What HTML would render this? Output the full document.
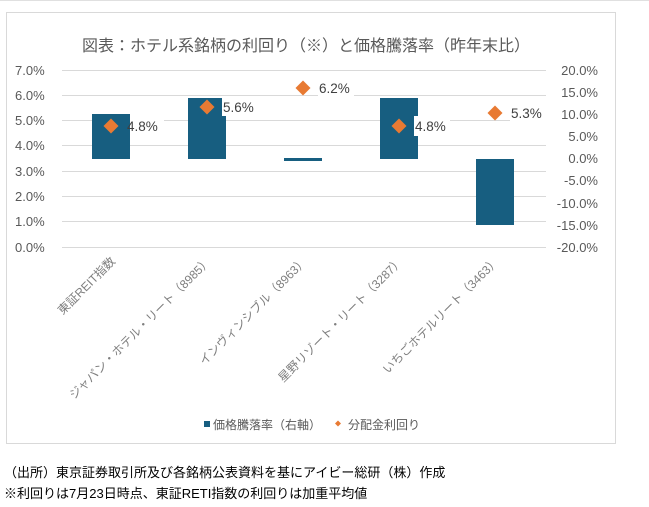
<!DOCTYPE html>
<html><head><meta charset="utf-8"><style>
html,body{margin:0;padding:0;background:#fff;width:649px;height:507px;overflow:hidden}
svg text{font-family:"Liberation Sans","Noto Sans CJK JP",sans-serif}
</style></head><body>
<svg width="649" height="507" xmlns="http://www.w3.org/2000/svg">
<rect x="6.5" y="12.5" width="609" height="431" fill="#fff" stroke="#d9d9d9"/>
<line x1="0" y1="0.5" x2="649" y2="0.5" stroke="#e0e0e0"/>
<text x="306" y="51" font-size="16" fill="#595959" text-anchor="middle">図表：ホテル系銘柄の利回り（※）と価格騰落率（昨年末比）</text>
<g stroke="#d9d9d9" stroke-width="1">
<line x1="62" y1="70.5" x2="546" y2="70.5"/><line x1="62" y1="95.5" x2="546" y2="95.5"/>
<line x1="62" y1="120.5" x2="546" y2="120.5"/><line x1="62" y1="145.5" x2="546" y2="145.5"/>
<line x1="62" y1="171.5" x2="546" y2="171.5"/><line x1="62" y1="196.5" x2="546" y2="196.5"/>
<line x1="62" y1="221.5" x2="546" y2="221.5"/><line x1="62" y1="247.5" x2="546" y2="247.5"/>
</g>
<g font-size="13" fill="#595959">
<text x="15" y="75">7.0%</text><text x="15" y="100">6.0%</text><text x="15" y="125">5.0%</text>
<text x="15" y="150">4.0%</text><text x="15" y="176">3.0%</text><text x="15" y="201">2.0%</text>
<text x="15" y="226">1.0%</text><text x="15" y="252">0.0%</text>
<g text-anchor="end">
<text x="598" y="75">20.0%</text><text x="598" y="97">15.0%</text><text x="598" y="119">10.0%</text>
<text x="598" y="141">5.0%</text><text x="598" y="163">0.0%</text><text x="598" y="185">-5.0%</text>
<text x="598" y="208">-10.0%</text><text x="598" y="230">-15.0%</text><text x="598" y="252">-20.0%</text>
</g></g>
<g fill="#175e80">
<rect x="92" y="114" width="38" height="45"/>
<rect x="188" y="98" width="38" height="61"/>
<rect x="284" y="158" width="38" height="3"/>
<rect x="380" y="98" width="38" height="61"/>
<rect x="476" y="159" width="38" height="66"/>
</g>
<g fill="#fff">
<rect x="130" y="116" width="34" height="20"/>
<rect x="222" y="96" width="36" height="20"/>
<rect x="318" y="80" width="36" height="20"/>
<rect x="414" y="116" width="36" height="20"/>
<rect x="510" y="103" width="36" height="20"/>
</g>
<g fill="#e87a33">
<path d="M111 118.5 L118.5 126 L111 133.5 L103.5 126Z"/>
<path d="M207 99.5 L214.5 107 L207 114.5 L199.5 107Z"/>
<path d="M303 80.5 L310.5 88 L303 95.5 L295.5 88Z"/>
<path d="M399 118.5 L406.5 126 L399 133.5 L391.5 126Z"/>
<path d="M495 105.5 L502.5 113 L495 120.5 L487.5 113Z"/>
</g>
<g font-size="13.5" fill="#404040">
<text x="127" y="131">4.8%</text><text x="223" y="112">5.6%</text><text x="319" y="93">6.2%</text>
<text x="415" y="131">4.8%</text><text x="511" y="118">5.3%</text>
</g>
<g font-size="12" fill="#7f7f7f" text-anchor="end">
<text transform="translate(116,262) rotate(-45)">東証REIT指数</text>
<text transform="translate(212,262) rotate(-45)">ジャパン・ホテル・リート（8985）</text>
<text transform="translate(308,262) rotate(-45)">インヴィンシブル（8963）</text>
<text transform="translate(404,262) rotate(-45)">星野リゾート・リート（3287）</text>
<text transform="translate(500,262) rotate(-45)">いちごホテルリート（3463）</text>
</g>
<rect x="204" y="421" width="6" height="6" fill="#175e80"/>
<text x="213" y="429" font-size="12" fill="#595959">価格騰落率（右軸）</text>
<path d="M338 420.5 L341 423.5 L338 426.5 L335 423.5Z" fill="#e87a33"/>
<text x="348" y="429" font-size="12" fill="#595959">分配金利回り</text>
<g font-size="13" fill="#000">
<text x="4" y="477">（出所）東京証券取引所及び各銘柄公表資料を基にアイビー総研（株）作成</text>
<text x="4" y="498">※利回りは7月23日時点、東証RETI指数の利回りは加重平均値</text>
</g>
</svg>
</body></html>
